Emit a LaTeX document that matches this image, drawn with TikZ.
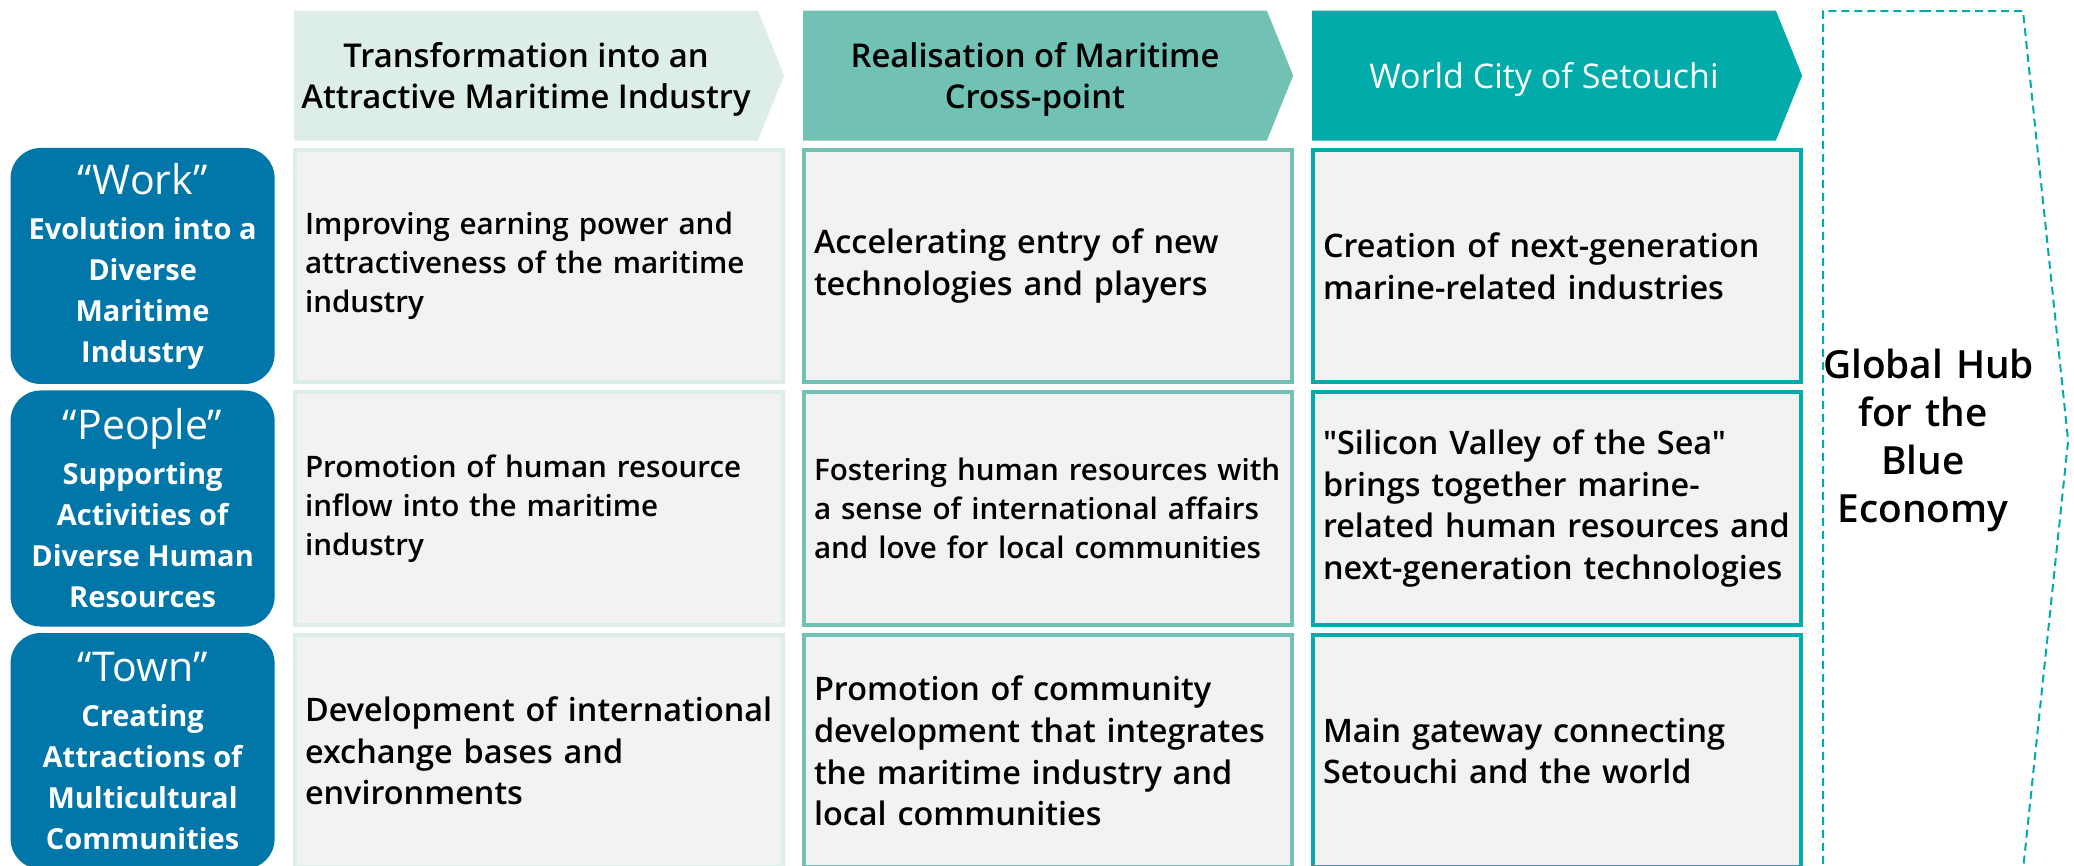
\documentclass[tikz,border=0pt]{standalone}
\usepackage{fontspec}
\setmainfont{Open Sans}
\IfFontExistsTF{Open Sans Semibold}
  {\newfontfamily\semifont{Open Sans Semibold}}
  {\newfontfamily\semifont[FakeBold=2.2]{Open Sans}}
\usetikzlibrary{positioning,shapes.symbols}

\definecolor{hdone}{HTML}{DDEEE8}
\definecolor{hdtwo}{HTML}{71C2B4}
\definecolor{hdthree}{HTML}{00ABAA}
\definecolor{lblblue}{HTML}{0176A8}
\definecolor{cellgrey}{HTML}{F2F2F2}

\tikzset{
  header/.style={signal, signal to=east, signal pointer angle=136,
    minimum width=245pt, minimum height=65pt, inner sep=0pt, align=center,
    text depth=0pt, xshift=-6.5pt, font=\semifont\fontsize{16.4}{20.5}\selectfont},
  cell/.style={draw, line width=2pt, fill=cellgrey, minimum width=244pt,
    minimum height=116pt, inner xsep=5pt, text width=234pt, align=left,
    font=\semifont\fontsize{16.2}{20.8}\selectfont},
  small/.style={font=\semifont\fontsize{14.8}{19.5}\selectfont},
  rowlabel/.style={fill=lblblue, text=white, rounded corners=15pt,
    minimum width=132pt, minimum height=118pt, inner sep=0pt, align=center,
    font=\bfseries\fontsize{14.5}{20.5}\selectfont},
  hub/.style={signal, signal to=east, signal pointer angle=168, draw=hdthree,
    line width=1pt, dash pattern=on 4pt off 2.5pt, minimum width=122.5pt,
    minimum height=429.5pt, inner xsep=0pt, text width=100pt, align=center,
    font=\semifont\fontsize{19.4}{24}\selectfont}
}

\begin{document}
\begin{tikzpicture}
  \useasboundingbox (0,0) rectangle (1037pt,-433pt);
  % first row
  \node[cell, small, draw=hdone] (work industry) at (269.5pt,-133pt)
    {Improving earning power and\\attractiveness of the maritime\\industry};
  \node[cell, draw=hdtwo] (work crosspoint) [right=8.5pt of work industry]
    {Accelerating entry of new\\technologies and players};
  \node[cell, draw=hdthree] (work worldcity) [right=8.5pt of work crosspoint]
    {Creation of next-generation\\marine-related industries};
  % second row
  \node[cell, small, draw=hdone] (people industry) [below=3.25pt of work industry]
    {Promotion of human resource\\inflow into the maritime\\industry};
  \node[cell, small, draw=hdtwo] (people crosspoint) [below=3.25pt of work crosspoint]
    {Fostering human resources with\\a sense of international affairs\\and love for local communities};
  \node[cell, draw=hdthree] (people worldcity) [below=3.25pt of work worldcity]
    {"Silicon Valley of the Sea"\\brings together marine-\\related human resources and\\next-generation technologies};
  % third row
  \node[cell, draw=hdone] (town industry) [below=3.25pt of people industry]
    {Development of international\\exchange bases and\\environments};
  \node[cell, draw=hdtwo] (town crosspoint) [below=3.25pt of people crosspoint]
    {Promotion of community\\development that integrates\\the maritime industry and\\local communities};
  \node[cell, draw=hdthree] (town worldcity) [below=3.25pt of people worldcity]
    {Main gateway connecting\\Setouchi and the world};
  % row labels
  \node[rowlabel] (work) [left=9pt of work industry]
    {{\mdseries\fontsize{20.5}{20.5}\selectfont “Work”}\\[2pt]Evolution into a\\Diverse\\Maritime\\Industry};
  \node[rowlabel] (people) [left=9pt of people industry]
    {{\mdseries\fontsize{20.5}{20.5}\selectfont “People”}\\[2pt]Supporting\\Activities of\\Diverse Human\\Resources};
  \node[rowlabel] (town) [left=9pt of town industry]
    {{\mdseries\fontsize{20.5}{20.5}\selectfont “Town”}\\[2pt]Creating\\Attractions of\\Multicultural\\Communities};
  % headers
  \node[header, fill=hdone] (industry hd) [above=3.5pt of work industry]
    {Transformation into an\\Attractive Maritime Industry};
  \node[header, fill=hdtwo] (crosspoint hd) [above=3.5pt of work crosspoint]
    {Realisation of Maritime\\Cross-point};
  \node[header, fill=hdthree, text=white, font=\fontsize{17}{20.5}\selectfont]
    (worldcity hd) [above=3.5pt of work worldcity] {World City of Setouchi};
  % goal
  \node[hub, anchor=north west] (hub)
    at ([xshift=9.5pt]work worldcity.east |- worldcity hd.north)
    {Global~Hub\\for the\\Blue\\Economy};
\end{tikzpicture}
\end{document}
